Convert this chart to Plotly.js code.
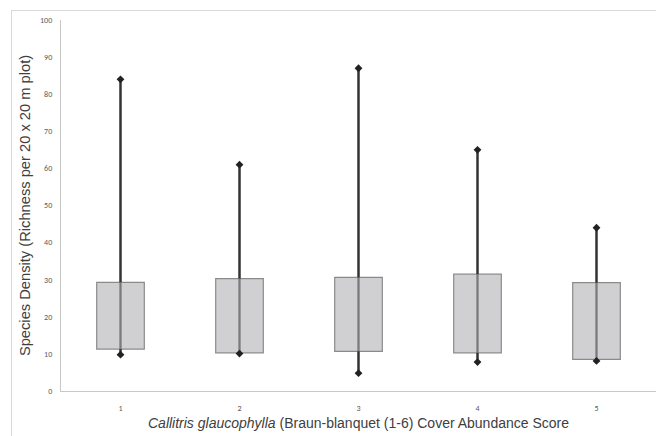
<!DOCTYPE html>
<html>
<head>
<meta charset="utf-8">
<script src="https://cdn.plot.ly/plotly-3.0.1.min.js"></script>
<style>
html,body{margin:0;padding:0;background:#fff;overflow:hidden;}
#frame{position:absolute;left:11px;top:10px;width:760px;height:520px;border:1.5px solid #d9d9d9;box-sizing:border-box;}
#chart{position:absolute;left:0;top:0;width:656px;height:436px;}
</style>
</head>
<body>
<div id="frame"></div>
<div id="chart"></div>
<script>
// Data
const categories = ['1', '2', '3', '4', '5'];
const q1Values  = [11.3, 10.3, 10.7, 10.3, 8.5];
const q3Values  = [29.3, 30.3, 30.6, 31.5, 29.2];
const minValues = [9.8, 10.1, 4.8, 7.8, 8.1];
const maxValues = [84, 61, 87, 65, 44];
const xTitle = '<i>Callitris glaucophylla</i> (Braun-blanquet (1-6) Cover Abundance Score';
const yTitle = 'Species Density (Richness per 20 x 20 m plot)';

// Boxes as floating bars (base = Q1, height = Q3 - Q1)
const boxTrace = {
  type: 'bar',
  x: categories,
  base: q1Values,
  y: q3Values.map((v, i) => v - q1Values[i]),
  width: 0.4,
  marker: {color: '#d0d0d3', line: {color: '#8a8a8a', width: 1.2}},
  hoverinfo: 'skip',
  showlegend: false
};

// Whisker segments outside the boxes
const wx = [], wy = [];
categories.forEach((c, i) => {
  wx.push(c, c, null, c, c, null);
  wy.push(minValues[i], q1Values[i], null, q3Values[i], maxValues[i], null);
});
const whiskerTrace = {
  type: 'scatter', mode: 'lines', x: wx, y: wy,
  line: {color: '#333333', width: 2.5},
  hoverinfo: 'skip', showlegend: false
};

// Whisker seen through the box (lighter)
const ix = [], iy = [];
categories.forEach((c, i) => {
  ix.push(c, c, null);
  iy.push(q1Values[i], q3Values[i], null);
});
const innerTrace = {
  type: 'scatter', mode: 'lines', x: ix, y: iy,
  line: {color: '#7a7a7c', width: 2.3},
  hoverinfo: 'skip', showlegend: false
};

// End markers
const endTrace = {
  type: 'scatter', mode: 'markers',
  x: categories.concat(categories),
  y: minValues.concat(maxValues),
  marker: {symbol: 'diamond', size: 6, color: '#222222'},
  hoverinfo: 'skip', showlegend: false
};

const layout = {
  width: 656, height: 436,
  margin: {l: 61, r: 0, t: 20, b: 45},
  paper_bgcolor: 'rgba(0,0,0,0)',
  plot_bgcolor: 'rgba(0,0,0,0)',
  font: {family: 'Liberation Sans, Arial, sans-serif', color: '#404040'},
  xaxis: {
    type: 'category',
    range: [-0.5, 4.5],
    showgrid: false, zeroline: false,
    showline: true, linecolor: '#c8c8c8', linewidth: 1.2,
    ticks: 'outside', ticklen: 9, tickcolor: 'rgba(0,0,0,0)',
    tickfont: {size: 8, color: '#595959', family: 'Calibri, Carlito, Liberation Sans, sans-serif'},
    title: {text: xTitle, font: {size: 14, color: '#404040'}, standoff: 6},
    fixedrange: true
  },
  yaxis: {
    range: [0, 100], dtick: 10,
    showgrid: false, zeroline: false,
    showline: true, linecolor: '#c8c8c8', linewidth: 1.2,
    ticks: 'outside', ticklen: 6, tickcolor: 'rgba(0,0,0,0)',
    tickfont: {size: 8, color: '#595959', family: 'Calibri, Carlito, Liberation Sans, sans-serif'},
    title: {text: yTitle, font: {size: 14.7, color: '#404040'}, standoff: 5},
    fixedrange: true
  },
  showlegend: false
};

Plotly.newPlot('chart', [boxTrace, innerTrace, whiskerTrace, endTrace], layout, {displayModeBar: false, staticPlot: true});
</script>
</body>
</html>
